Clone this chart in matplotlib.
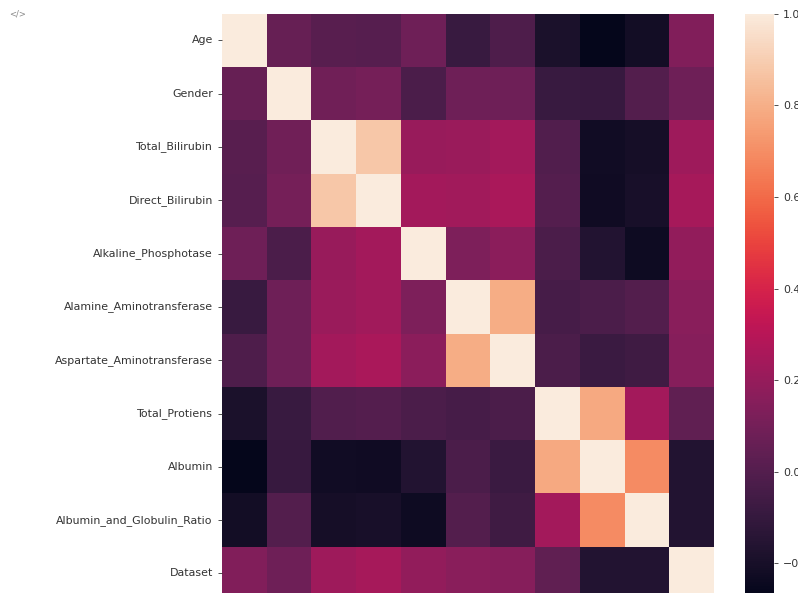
import numpy as np
import matplotlib
matplotlib.use("Agg")
import matplotlib.pyplot as plt
import seaborn as sns
import pandas as pd

features = [
    "Age", "Gender", "Total_Bilirubin", "Direct_Bilirubin", "Alkaline_Phosphotase",
    "Alamine_Aminotransferase", "Aspartate_Aminotransferase", "Total_Protiens",
    "Albumin", "Albumin_and_Globulin_Ratio", "Dataset",
]

# Pairwise correlation rows (symmetric matrix)
age        = [1.000, 0.057, 0.012, 0.008, 0.080, -0.087, -0.020, -0.187, -0.266, -0.216, 0.137]
gender     = [0.057, 1.000, 0.089, 0.100, -0.027, 0.082, 0.080, -0.089, -0.094, -0.003, 0.082]
total_bil  = [0.012, 0.089, 1.000, 0.875, 0.207, 0.214, 0.238, -0.008, -0.222, -0.206, 0.220]
direct_bil = [0.008, 0.100, 0.875, 1.000, 0.235, 0.234, 0.258, -0.000, -0.229, -0.200, 0.246]
alk_phos   = [0.080, -0.027, 0.207, 0.235, 1.000, 0.126, 0.167, -0.029, -0.165, -0.234, 0.185]
alamine    = [-0.087, 0.082, 0.214, 0.234, 0.126, 1.000, 0.792, -0.043, -0.030, -0.002, 0.163]
aspartate  = [-0.020, 0.080, 0.238, 0.258, 0.167, 0.792, 1.000, -0.026, -0.085, -0.070, 0.152]
proteins   = [-0.187, -0.089, -0.008, -0.000, -0.029, -0.043, -0.026, 1.000, 0.784, 0.235, 0.035]
albumin    = [-0.266, -0.094, -0.222, -0.229, -0.165, -0.030, -0.085, 0.784, 1.000, 0.690, -0.161]
ag_ratio   = [-0.216, -0.003, -0.206, -0.200, -0.234, -0.002, -0.070, 0.235, 0.690, 1.000, -0.163]
dataset    = [0.137, 0.082, 0.220, 0.246, 0.185, 0.163, 0.152, 0.035, -0.161, -0.163, 1.000]

cbar_ticks = [-0.2, 0.0, 0.2, 0.4, 0.6, 0.8, 1.0]

corr = pd.DataFrame(
    [age, gender, total_bil, direct_bil, alk_phos, alamine, aspartate,
     proteins, albumin, ag_ratio, dataset],
    index=features, columns=features,
)

fig = plt.figure(figsize=(7.98, 5.93), dpi=100)
ax = fig.add_axes([0.278, -0.012, 0.617, 0.989])
cax = fig.add_axes([0.934, -0.012, 0.036, 0.989])

sns.heatmap(corr, ax=ax, cbar_ax=cax, vmin=-0.28, vmax=1.0)

# column labels sit below the visible area, so only row labels are shown
ax.set_xticks([])
ax.tick_params(axis="y", labelsize=7.9, rotation=0, length=3, width=0.6, colors="#333333")
cax.set_yticks(cbar_ticks)
cax.tick_params(labelsize=7.9, length=3, width=0.6, colors="#333333")

fig.text(0.012, 0.976, "</>", fontsize=6, color="#888888", va="center", ha="left")

fig.savefig("out.png", dpi=100)
